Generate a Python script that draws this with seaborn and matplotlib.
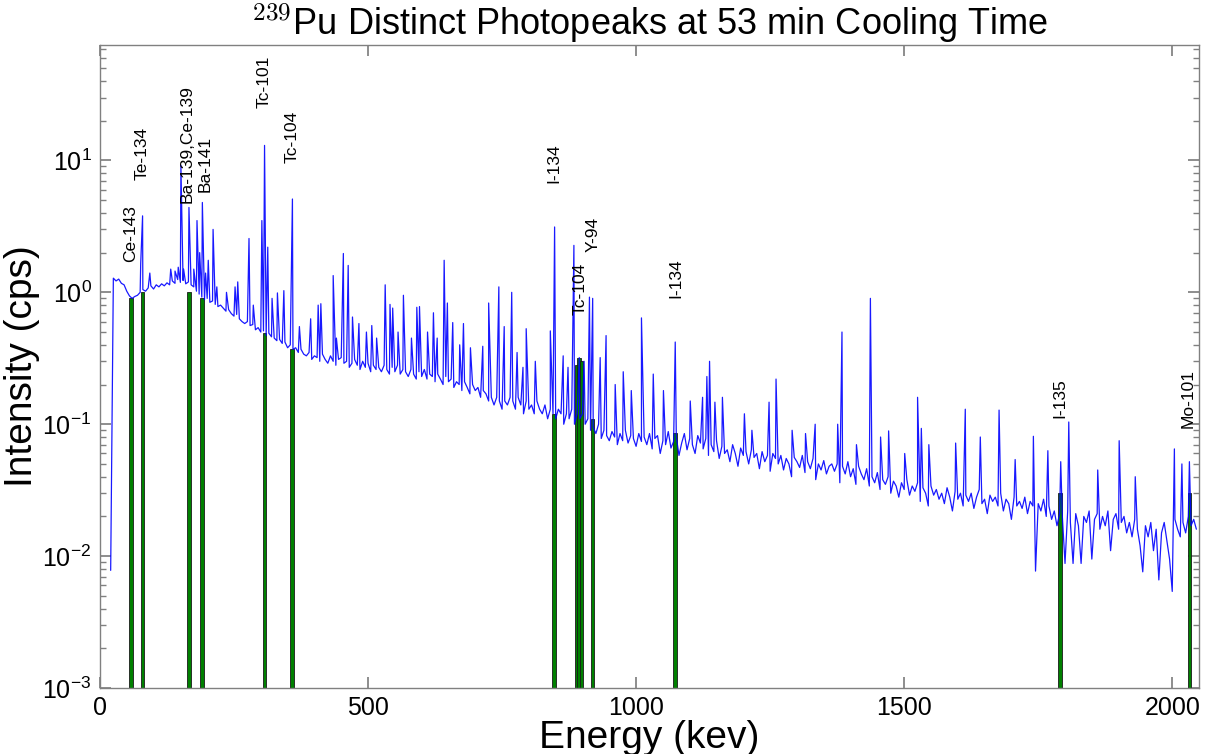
import numpy as np
import pandas as pd
import matplotlib
matplotlib.use("Agg")
import matplotlib.pyplot as plt
import seaborn as sns

# ---------------- data ----------------
# continuum (cps) sampled every 5 keV from 20 keV to 2045 keV
base_start = 20
base_step = 5
base_values = [
    0.0078, 1.28, 1.22, 1.26, 1.17, 1.14, 1.02, 0.94, 0.90, 0.93,
    0.95, 1.0, 1.05, 1.02, 1.08, 1.12, 1.06, 1.14, 1.10, 1.16,
    1.12, 1.18, 1.14, 1.22, 1.17, 1.25, 1.19, 1.23, 1.16, 1.20,
    1.14, 1.10, 1.02, 0.97, 0.92, 0.88, 0.90, 0.84, 0.86, 0.81,
    0.78, 0.80, 0.76, 0.72, 0.74, 0.69, 0.66, 0.68, 0.63, 0.60,
    0.58, 0.60, 0.56, 0.57, 0.52, 0.54, 0.50, 0.51, 0.47, 0.49,
    0.46, 0.45, 0.43, 0.44, 0.41, 0.42, 0.38, 0.40, 0.37, 0.38,
    0.35, 0.37, 0.34, 0.33, 0.35, 0.31, 0.33, 0.32, 0.30, 0.34,
    0.31, 0.29, 0.33, 0.30, 0.28, 0.31, 0.32, 0.29, 0.30, 0.27,
    0.29, 0.31, 0.28, 0.26, 0.30, 0.27, 0.29, 0.25, 0.28, 0.26,
    0.27, 0.25, 0.28, 0.26, 0.24, 0.27, 0.25, 0.28, 0.24, 0.26,
    0.25, 0.23, 0.26, 0.24, 0.22, 0.25, 0.23, 0.26, 0.22, 0.24,
    0.23, 0.21, 0.24, 0.22, 0.20, 0.23, 0.21, 0.22, 0.19, 0.21,
    0.20, 0.18, 0.21, 0.19, 0.17, 0.20, 0.18, 0.19, 0.16, 0.18,
    0.17, 0.15, 0.16, 0.14, 0.16, 0.15, 0.13, 0.15, 0.14, 0.16,
    0.15, 0.13, 0.16, 0.14, 0.12, 0.15, 0.13, 0.14, 0.12, 0.15,
    0.13, 0.12, 0.14, 0.11, 0.13, 0.12, 0.11, 0.13, 0.12, 0.10,
    0.12, 0.11, 0.13, 0.10, 0.12, 0.11, 0.12, 0.10, 0.11, 0.09,
    0.095, 0.085, 0.10, 0.078, 0.09, 0.082, 0.075, 0.088, 0.08, 0.07,
    0.085, 0.075, 0.09, 0.072, 0.082, 0.078, 0.068, 0.085, 0.074, 0.08,
    0.07, 0.085, 0.065, 0.078, 0.082, 0.06, 0.075, 0.07, 0.088, 0.066,
    0.074, 0.08, 0.058, 0.072, 0.085, 0.064, 0.078, 0.07, 0.06, 0.082,
    0.072, 0.065, 0.078, 0.058, 0.07, 0.062, 0.075, 0.055, 0.068, 0.06,
    0.064, 0.052, 0.07, 0.06, 0.048, 0.066, 0.058, 0.062, 0.05, 0.064,
    0.056, 0.06, 0.046, 0.062, 0.052, 0.058, 0.044, 0.06, 0.055, 0.05,
    0.058, 0.045, 0.055, 0.05, 0.04, 0.056, 0.052, 0.047, 0.058, 0.043,
    0.052, 0.046, 0.055, 0.038, 0.05, 0.045, 0.053, 0.042, 0.048, 0.05,
    0.044, 0.05, 0.036, 0.048, 0.042, 0.052, 0.04, 0.046, 0.035, 0.048,
    0.042, 0.038, 0.046, 0.034, 0.04, 0.036, 0.043, 0.032, 0.038, 0.035,
    0.04, 0.03, 0.037, 0.034, 0.028, 0.036, 0.032, 0.038, 0.029, 0.034,
    0.031, 0.036, 0.026, 0.033, 0.03, 0.024, 0.034, 0.029, 0.032, 0.027,
    0.03, 0.025, 0.033, 0.028, 0.022, 0.031, 0.027, 0.03, 0.024, 0.029,
    0.026, 0.03, 0.023, 0.028, 0.032, 0.025, 0.027, 0.021, 0.029, 0.026,
    0.028, 0.024, 0.03, 0.022, 0.027, 0.025, 0.019, 0.028, 0.024, 0.026,
    0.023, 0.028, 0.021, 0.026, 0.024, 0.0077, 0.025, 0.022, 0.027, 0.02,
    0.024, 0.019, 0.022, 0.017, 0.021, 0.02, 0.0088, 0.022, 0.018, 0.0088,
    0.021, 0.017, 0.0088, 0.02, 0.018, 0.022, 0.0095, 0.019, 0.021, 0.016,
    0.02, 0.017, 0.022, 0.011, 0.019, 0.021, 0.016, 0.018, 0.02, 0.015,
    0.018, 0.014, 0.019, 0.016, 0.012, 0.0076, 0.017, 0.014, 0.018, 0.011,
    0.016, 0.0066, 0.015, 0.018, 0.013, 0.0095, 0.0054, 0.019, 0.016, 0.014,
    0.018, 0.015, 0.02, 0.017, 0.019, 0.016,
]

# photopeak channels (keV, cps)
peak_energy = [
    76, 79.5, 93, 132, 140, 146, 151, 156, 166, 175, 181, 186, 191, 197, 202,
    211, 218, 236, 252, 257, 278, 286, 302, 307, 313, 321, 331, 343, 359,
    372, 393, 407, 412, 435, 441, 454, 463, 471, 483, 497, 507, 516, 532,
    541, 546, 556, 566, 581, 591, 596, 611, 622, 629, 642, 648, 658, 671,
    678, 691, 714, 725, 744, 754, 768, 778, 789, 795, 812, 840, 848, 864,
    873, 884, 894, 903, 913, 919, 933, 944, 961, 976, 991, 1010, 1032,
    1051, 1073, 1101, 1124, 1132, 1137, 1147, 1161, 1202, 1216, 1248, 1261,
    1291, 1316, 1334, 1376, 1384, 1411, 1437, 1456, 1471, 1501, 1525, 1532,
    1546, 1596, 1614, 1642, 1677, 1707, 1741, 1768, 1792, 1807, 1861, 1901,
    1931, 2004, 2018, 2032,
]
peak_value = [
    1.65, 3.8, 1.4, 1.5, 1.45, 1.55, 9.2, 1.5, 4.4, 1.5, 3.5, 2.0, 4.8, 1.4, 1.75,
    3.0, 1.1, 1.0, 1.1, 1.2, 2.56, 0.8, 3.5, 13.0, 2.2, 0.9, 0.99, 1.03, 5.1,
    0.55, 0.63, 0.80, 0.82, 1.34, 0.45, 1.97, 1.60, 0.65, 0.58, 0.5, 0.56, 0.45, 1.14,
    0.81, 0.76, 0.5, 0.95, 0.45, 0.77, 0.78, 0.5, 0.70, 0.45, 1.75, 0.83, 0.59, 0.4,
    0.58, 0.38, 0.39, 0.83, 1.10, 0.55, 1.0, 0.35, 0.27, 0.53, 0.3, 0.51, 3.13, 0.33,
    0.27, 2.27, 0.32, 0.3, 0.92, 0.90, 0.32, 0.47, 0.2, 0.25, 0.18, 0.64, 0.24,
    0.18, 0.42, 0.15, 0.16, 0.23, 0.30, 0.147, 0.16, 0.12, 0.09, 0.147, 0.22,
    0.09, 0.085, 0.10, 0.10, 0.50, 0.07, 0.90, 0.08, 0.089, 0.06, 0.16, 0.093,
    0.07, 0.072, 0.13, 0.080, 0.128, 0.054, 0.081, 0.063, 0.052, 0.104, 0.045, 0.075,
    0.04, 0.065, 0.05, 0.052,
]

# identified lines (green bars)
line_energy = [57.4, 79.5, 165.9, 190.3, 306.8, 358.0, 847.0, 889.0, 894.0, 898.0, 918.7, 1072.6, 1791.2, 2032.0]
line_height = [0.90, 1.0, 1.0, 0.9, 0.49, 0.37, 0.12, 0.28, 0.32, 0.30, 0.11, 0.086, 0.03, 0.03]

# labels
label_text = ["Ce-143", "Te-134", "Ba-139,Ce-139", "Ba-141", "Tc-101", "Tc-104",
              "I-134", "Tc-104", "Y-94", "I-134", "I-135", "Mo-101"]
label_energy = [57.4, 79.5, 162.0, 197.0, 306.8, 358.0, 847.0, 895.0, 920.0, 1074.0, 1791.2, 2030.0]
label_y = [1.69, 7.05, 4.72, 5.72, 24.8, 9.49, 6.7, 0.67, 2.01, 0.90, 0.111, 0.093]

# ---------------- build table ----------------
base_energy = [base_start + base_step * i for i in range(len(base_values))]
spec = pd.DataFrame({
    "energy": base_energy + peak_energy,
    "cps": base_values + peak_value,
}).sort_values("energy", kind="mergesort").reset_index(drop=True)

# ---------------- style ----------------
sns.set_theme(style="ticks")
plt.rcParams["font.family"] = ["Liberation Sans", "DejaVu Sans"]
plt.rcParams["mathtext.fontset"] = "cm"
plt.rcParams["axes.edgecolor"] = "#808080"
plt.rcParams["axes.linewidth"] = 1.0
plt.rcParams["text.color"] = "black"
plt.rcParams["axes.labelcolor"] = "black"
plt.rcParams["xtick.labelcolor"] = "black"
plt.rcParams["ytick.labelcolor"] = "black"

fig = plt.figure(figsize=(12.13, 7.54), dpi=100)
ax = fig.add_axes([0.0824, 0.0875, 0.9885 - 0.0824, 0.9403 - 0.0875])

ax.bar(line_energy, line_height, width=7, bottom=0, color="#008000",
       edgecolor="#1a1a1a", linewidth=0.6, zorder=1, log=True)

sns.lineplot(data=spec, x="energy", y="cps", ax=ax, color="blue", lw=0.9,
             estimator=None, sort=False, zorder=2, alpha=0.9)

for txt, e, y in zip(label_text, label_energy, label_y):
    ax.text(e, y, txt, rotation=90, ha="center", va="bottom", fontsize=12.5,
            color="black", zorder=3)

ax.set_yscale("log")
ax.set_xlim(0, 2050)
ax.set_ylim(1e-3, 75)
ax.set_xticks([0, 500, 1000, 1500, 2000])
ax.tick_params(axis="both", which="both", direction="in", top=True, right=True,
               color="#808080", labelsize=18, pad=6)
ax.tick_params(which="major", length=8)
ax.tick_params(which="minor", length=4)
ax.set_xlabel("Energy (kev)", fontsize=28, labelpad=0)
ax.set_ylabel("Intensity (cps)", fontsize=28, labelpad=2)
ax.set_title(r"$^{239}$Pu Distinct Photopeaks at 53 min Cooling Time",
             fontsize=26, pad=4)

fig.savefig("out.png", dpi=100)
